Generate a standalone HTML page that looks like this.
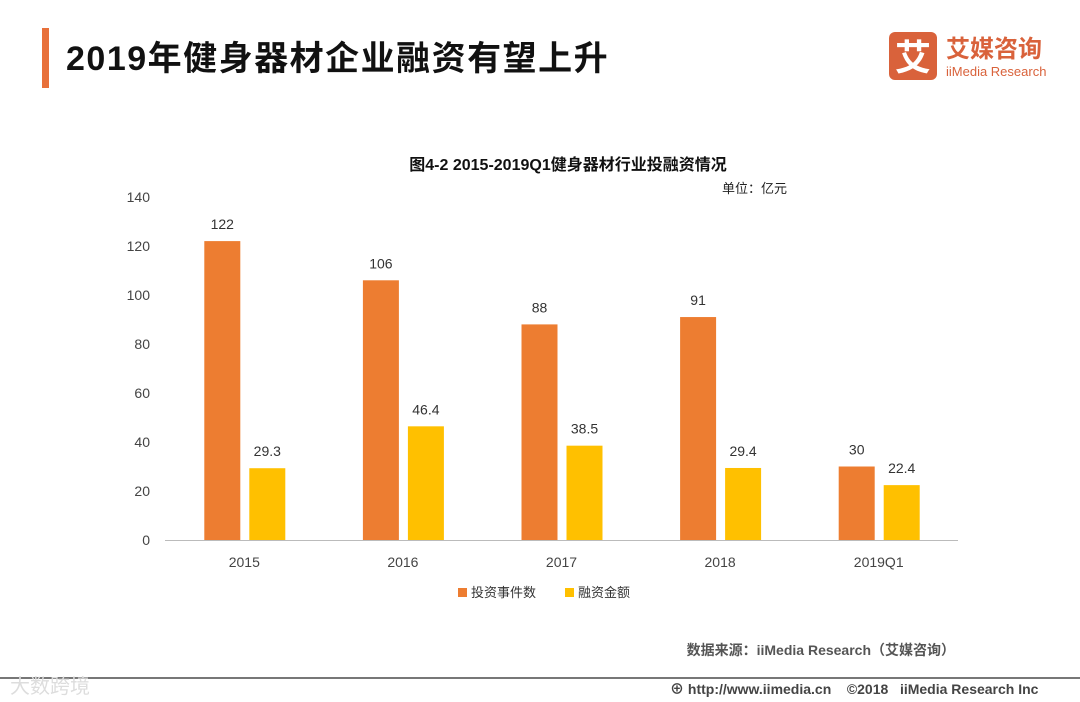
<!DOCTYPE html>
<html><head><meta charset="utf-8"><style>
body{margin:0;width:1080px;height:702px;background:#fff;overflow:hidden;font-family:"Liberation Sans","Noto Sans CJK SC",sans-serif}
svg{display:block}
</style></head><body>
<svg id="c" width="1080" height="702" font-family="Liberation Sans, Noto Sans CJK SC, sans-serif">
<rect x="42" y="28" width="7" height="60" fill="#e8703a"/>
<text x="66" y="70" font-size="34" font-weight="bold" letter-spacing="1.5" fill="#111">2019年健身器材企业融资有望上升</text>
<g>
<rect x="889" y="32" width="48" height="48" rx="6" fill="#d9623b"/>
<text x="913" y="70" font-size="36" font-weight="bold" fill="#fff" text-anchor="middle">艾</text>
<text x="946" y="57" font-size="24" font-weight="bold" fill="#d9623b">艾媒咨询</text>
<text x="946" y="76" font-size="13" fill="#d9623b">iiMedia Research</text>
</g>
<text x="568" y="170" font-size="16" font-weight="bold" fill="#111" text-anchor="middle">图4-2 2015-2019Q1健身器材行业投融资情况</text>
<text x="722" y="193" font-size="13" fill="#222">单位：亿元</text>
<g id="yaxis"></g>
<g id="bars"></g>
<line x1="165" y1="540.5" x2="958" y2="540.5" stroke="#bbb"/>
<g id="xaxis"></g>
<g>
<rect x="458" y="588" width="9" height="9" fill="#ed7d31"/>
<text x="471" y="597" font-size="13" fill="#333">投资事件数</text>
<rect x="565" y="588" width="9" height="9" fill="#ffc000"/>
<text x="578" y="597" font-size="13" fill="#333">融资金额</text>
</g>
<text x="955" y="655" font-size="14" font-weight="bold" fill="#555" text-anchor="end">数据来源：iiMedia Research（艾媒咨询）</text>
<line x1="0" y1="678" x2="1080" y2="678" stroke="#777" stroke-width="2"/>
<text x="10" y="693" font-size="20" fill="#ddd">大数跨境</text>
<text x="670" y="694" font-size="14" font-weight="bold" fill="#444" xml:space="preserve">⊕ http://www.iimedia.cn    ©2018   iiMedia Research Inc</text>
</svg>
<script>
const categories=["2015","2016","2017","2018","2019Q1"];
const investments=[122,106,88,91,30];
const financing=[29.3,46.4,38.5,29.4,22.4];
const yTicks=[0,20,40,60,80,100,120,140];
const NS="http://www.w3.org/2000/svg";
const x0=165,x1=958,y0=540,yTop=197,yMax=140;
const band=(x1-x0)/categories.length;
const y=v=>y0-(v/yMax)*(y0-yTop);
const cx=i=>x0+band*(i+0.5);
function mk(t,a,p){const e=document.createElementNS(NS,t);for(const k in a)e.setAttribute(k,a[k]);p.appendChild(e);return e;}
const ya=document.getElementById('yaxis'),xa=document.getElementById('xaxis'),bg=document.getElementById('bars');
yTicks.forEach(v=>{const t=mk('text',{x:150,y:y(v)+5,'font-size':14,fill:'#444','text-anchor':'end'},ya);t.textContent=v;

});
categories.forEach((c,i)=>{
const t=mk('text',{x:cx(i),y:567,'font-size':14,fill:'#444','text-anchor':'middle'},xa);t.textContent=c;


const w=36;
const b1=mk('rect',{x:cx(i)-40,y:y(investments[i]),width:w,height:y0-y(investments[i]),fill:'#ed7d31'},bg);


const l1=mk('text',{x:cx(i)-22,y:y(investments[i])-12,'font-size':14,fill:'#333','text-anchor':'middle'},bg);l1.textContent=investments[i];


const b2=mk('rect',{x:cx(i)+5,y:y(financing[i]),width:w,height:y0-y(financing[i]),fill:'#ffc000'},bg);


const l2=mk('text',{x:cx(i)+23,y:y(financing[i])-12,'font-size':14,fill:'#333','text-anchor':'middle'},bg);l2.textContent=financing[i];


});
</script>
</body></html>
